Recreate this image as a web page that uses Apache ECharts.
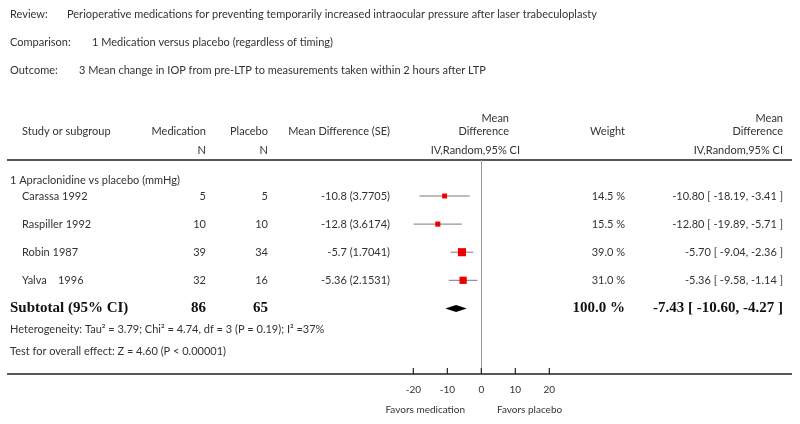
<!DOCTYPE html>
<html>
<head>
<meta charset="utf-8">
<script src="https://cdn.jsdelivr.net/npm/echarts@6/dist/echarts.min.js"></script>
<style>
html,body{margin:0;padding:0;background:#fff;}
#chart{width:800px;height:424px;}
</style>
</head>
<body>
<div id="chart"></div>
<script>
// ---- data ----
const reviewText = 'Perioperative medications for preventing temporarily increased intraocular pressure after laser trabeculoplasty';
const comparisonText = '1 Medication versus placebo (regardless of timing)';
const outcomeText = '3 Mean change in IOP from pre-LTP to measurements taken within 2 hours after LTP';
const subgroupTitle = '1 Apraclonidine vs placebo (mmHg)';
const studies = ['Carassa 1992', 'Raspiller 1992', 'Robin 1987', 'Yalva    1996'];
const medicationN = [5, 10, 39, 32];
const placeboN = [5, 10, 34, 16];
const meanDiff = [-10.8, -12.8, -5.7, -5.36];
const stdErr = [3.7705, 3.6174, 1.7041, 2.1531];
const ciLow = [-18.19, -19.89, -9.04, -9.58];
const ciHigh = [-3.41, -5.71, -2.36, -1.14];
const weights = [14.5, 15.5, 39.0, 31.0];
const subtotalMedN = 86;
const subtotalPlaN = 65;
const subtotalWeight = 100.0;
const pooledMD = -7.43;
const pooledLow = -10.60;
const pooledHigh = -4.27;
const heterogeneityText = 'Heterogeneity: Tau² = 3.79; Chi² = 4.74, df = 3 (P = 0.19); I² =37%';
const overallText = 'Test for overall effect: Z = 4.60 (P < 0.00001)';
const axisTicks = [-20, -10, 0, 10, 20];
const favorsLeft = 'Favors medication';
const favorsRight = 'Favors placebo';

// ---- layout ----
const TOP = 160, BOT = 374, ROW0 = 196, ROW_H = 28.1;
const rowY = i => ROW0 + ROW_H * i;
const FONT = '11px Lato, "Open Sans", sans-serif';
const SMALL = '10px Lato, "Open Sans", sans-serif';
const BOLD = 'bold 15px "Liberation Serif", "DejaVu Serif", serif';
const TXT = '#333';
const Y_MIN = -(ROW0 - TOP) / ROW_H, Y_MAX = (BOT - ROW0) / ROW_H;

let uid = 0;
function T(text, x, y, align, font, fill) {
  return { type: 'text', id: 't' + (uid++), x: x, y: y, silent: true,
    style: { text: text, fill: fill || TXT, font: font || FONT,
      textAlign: align || 'left', textVerticalAlign: 'middle' } };
}
function HR(y) {
  return { type: 'rect', id: 'r' + (uid++), silent: true,
    shape: { x: 7, y: y - 0.8, width: 785, height: 1.6 }, style: { fill: '#222' } };
}

const g = [];
// titles
g.push(T('Review:', 10, 14)); g.push(T(reviewText, 67, 14));
g.push(T('Comparison:', 10, 42)); g.push(T(comparisonText, 92, 42));
g.push(T('Outcome:', 10, 70)); g.push(T(outcomeText, 79, 70));
// headers
g.push(T('Study or subgroup', 22, 131));
g.push(T('Medication', 206, 131, 'right')); g.push(T('N', 206, 150, 'right'));
g.push(T('Placebo', 268, 131, 'right')); g.push(T('N', 268, 150, 'right'));
g.push(T('Mean Difference (SE)', 390, 131, 'right'));
g.push(T('Mean', 509, 118, 'right')); g.push(T('Difference', 509, 131, 'right'));
g.push(T('IV,Random,95% CI', 520, 150, 'right'));
g.push(T('Weight', 625, 131, 'right'));
g.push(T('Mean', 783, 118, 'right')); g.push(T('Difference', 783, 131, 'right'));
g.push(T('IV,Random,95% CI', 783, 150, 'right'));
// rules
g.push(HR(TOP));
g.push(HR(BOT));
// subgroup
g.push(T(subgroupTitle, 10, 180));
studies.forEach((s, i) => {
  const y = rowY(i);
  g.push(T(s, 22, y));
  g.push(T(String(medicationN[i]), 206, y, 'right'));
  g.push(T(String(placeboN[i]), 268, y, 'right'));
  g.push(T(meanDiff[i] + ' (' + stdErr[i] + ')', 390, y, 'right'));
  g.push(T(weights[i].toFixed(1) + ' %', 625, y, 'right'));
  g.push(T(meanDiff[i].toFixed(2) + ' [ ' + ciLow[i].toFixed(2) + ', ' + ciHigh[i].toFixed(2) + ' ]', 783, y, 'right'));
});
const ys = rowY(studies.length);
g.push(T('Subtotal (95% CI)', 10, ys, 'left', BOLD, '#111'));
g.push(T(String(subtotalMedN), 206, ys, 'right', BOLD, '#111'));
g.push(T(String(subtotalPlaN), 268, ys, 'right', BOLD, '#111'));
g.push(T(subtotalWeight.toFixed(1) + ' %', 625, ys, 'right', BOLD, '#111'));
g.push(T(pooledMD.toFixed(2) + ' [ ' + pooledLow.toFixed(2) + ', ' + pooledHigh.toFixed(2) + ' ]', 783, ys, 'right', BOLD, '#111'));
g.push(T(heterogeneityText, 10, 329));
g.push(T(overallText, 10, 351));
g.push(T(favorsLeft, 465, 410, 'right', SMALL));
g.push(T(favorsRight, 497, 410, 'left', SMALL));

const chart = echarts.init(document.getElementById('chart'), null, { renderer: 'canvas' });
const ciData = studies.map((s, i) => [ciLow[i], ciHigh[i], i]);
const ptData = studies.map((s, i) => [meanDiff[i], i, weights[i]]);
const option = {
  animation: false,
  backgroundColor: '#fff',
  grid: { left: 413.33, width: 136, top: TOP, height: BOT - TOP },
  xAxis: {
    type: 'value', min: axisTicks[0], max: axisTicks[axisTicks.length - 1], interval: 10,
    position: 'bottom',
    axisLine: { show: false, onZero: false },
    axisTick: { show: false },
    axisLabel: { margin: 11, fontSize: 10, color: TXT, fontFamily: 'Lato, "Open Sans", sans-serif' },
    splitLine: { show: false }
  },
  yAxis: {
    type: 'value', inverse: true, show: false, min: Y_MIN, max: Y_MAX
  },
  graphic: { elements: g },
  series: [
    {
      type: 'custom', data: ciData, z: 2,
      renderItem: function (params, api) {
        const a = api.coord([api.value(0), api.value(2)]);
        const b = api.coord([api.value(1), api.value(2)]);
        return { type: 'line', shape: { x1: a[0], y1: a[1], x2: b[0], y2: b[1] },
          style: { stroke: '#7a7a7a', lineWidth: 1 } };
      },
      encode: { x: [0, 1], y: 2 }
    },
    {
      type: 'scatter', data: ptData, z: 3, symbol: 'rect',
      symbolSize: v => 1.3 * Math.sqrt(v[2]),
      itemStyle: { color: '#ee0000', opacity: 1 },
      markLine: {
        silent: true, symbol: 'none', label: { show: false },
        lineStyle: { color: '#999', width: 1, type: 'solid' },
        data: [{ xAxis: 0 }]
      }
    },
    {
      type: 'custom', data: [[pooledMD, pooledLow, pooledHigh, studies.length]], z: 3,
      renderItem: function (params, api) {
        const r = api.value(3);
        const c = api.coord([api.value(0), r]);
        const l = api.coord([api.value(1), r]);
        const h = api.coord([api.value(2), r]);
        const hh = 3.5;
        return { type: 'polygon',
          shape: { points: [[l[0], c[1]], [c[0], c[1] - hh], [h[0], c[1]], [c[0], c[1] + hh]] },
          style: { fill: '#000' } };
      },
      encode: { x: [0, 1, 2], y: 3 }
    }
  ]
};
chart.setOption(option);
// axis tick marks, placed through the x axis scale, pointing up from the bottom rule
const tickEls = axisTicks.map((v, i) => {
  const px = chart.convertToPixel({ xAxisIndex: 0 }, v);
  return { type: 'rect', id: 'tick' + i, silent: true, z: 100,
    shape: { x: px - 0.6, y: BOT - 6, width: 1.2, height: 6 }, style: { fill: '#222' } };
});
chart.setOption({ graphic: { elements: tickEls } });
</script>
</body>
</html>
